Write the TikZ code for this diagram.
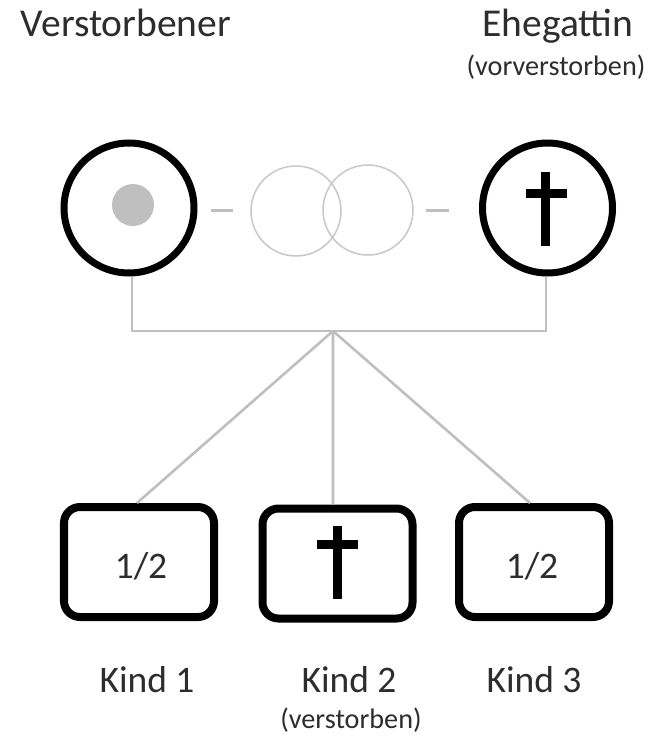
\documentclass[tikz,border=0pt]{standalone}
\usepackage{fontspec}
\setmainfont{Carlito}
\newcommand\lblbig{\fontsize{37.5bp}{44bp}\selectfont}
\newcommand\lbltop{\fontsize{39.5bp}{46bp}\selectfont}
\newcommand\lblsmall{\fontsize{28.2bp}{33bp}\selectfont}
\definecolor{conn}{RGB}{191,191,191}
\definecolor{ringc}{RGB}{200,200,200}
\definecolor{txt}{RGB}{45,45,45}
\begin{document}
\begin{tikzpicture}[x=1bp,y=-1bp,
  person/.style={circle,draw=black,line width=7bp,minimum size=130bp,inner sep=0pt},
  kidbox/.style={rectangle,draw=black,line width=8bp,rounded corners=16bp,minimum width=150bp,minimum height=110bp,inner sep=0pt},
  ring/.style={circle,draw=ringc,line width=1.5bp,minimum size=90bp,inner sep=0pt},
  conline/.style={draw=conn,line width=2.6bp},
  dashline/.style={draw=conn,line width=3bp},
  lbl/.style={anchor=base,inner sep=0pt,text=txt,font=\lblbig},
  toplbl/.style={anchor=base,inner sep=0pt,text=txt,font=\lbltop},
  sublbl/.style={anchor=base,inner sep=0pt,text=txt,font=\lblsmall},
  cross/.style={fill=black}]
\useasboundingbox (0,0) rectangle (652,737);
\fill[white] (0,0) rectangle (652,737);

% top labels
\node[toplbl] (tV) at (126,37) {Verstorbener};
\node[toplbl] (tE) at (558,37) {Ehegattin};
\node[sublbl] (tEs) at (556,75) {(vorverstorben)};

% persons
\node[person] (L) at (129,208) {};
\node[person] (R) at (547.5,208) {};
\fill[conn] (133,205) circle[radius=21];
\fill[cross] (541,172) rectangle (550,246);
\fill[cross] (526,189) rectangle (567,198);

% rings
\node[ring] (r1) at (296,211) {};
\node[ring] (r2) at (368,210) {};
\coordinate (d1a) at (211,210);
\coordinate (d1b) at (233,210);
\coordinate (d2a) at (426,210);
\coordinate (d2b) at (449,210);
\draw[dashline] (d1a) -- (d1b);
\draw[dashline] (d2a) -- (d2b);

% kids
\node[kidbox] (K1) at (139,562) {};
\node[kidbox] (K2) at (337.5,563.5) {};
\node[kidbox] (K3) at (534,562) {};
\node[lbl] (f1) at (141,578) {1/2};
\node[lbl] (f3) at (532,578) {1/2};
\fill[cross] (333,526) rectangle (342,599);
\fill[cross] (317,540) rectangle (358,549);

% connectors
\coordinate (hub) at (333,331);
\draw[conline] ([xshift=3bp]L.south) |- (hub) -| ([xshift=-1.5bp]R.south);
\draw[conline] (hub) -- ([xshift=-2bp]K1.north);
\draw[conline] (hub) -- ([xshift=-4.5bp]K2.north);
\draw[conline] (hub) -- ([xshift=-4bp]K3.north);

% kid labels
\node[lbl] (k1) at (147,692) {Kind 1};
\node[lbl] (k2) at (349,692) {Kind 2};
\node[lbl] (k3) at (534,692) {Kind 3};
\node[sublbl] (k2s) at (351,728) {(verstorben)};
\end{tikzpicture}
\end{document}
